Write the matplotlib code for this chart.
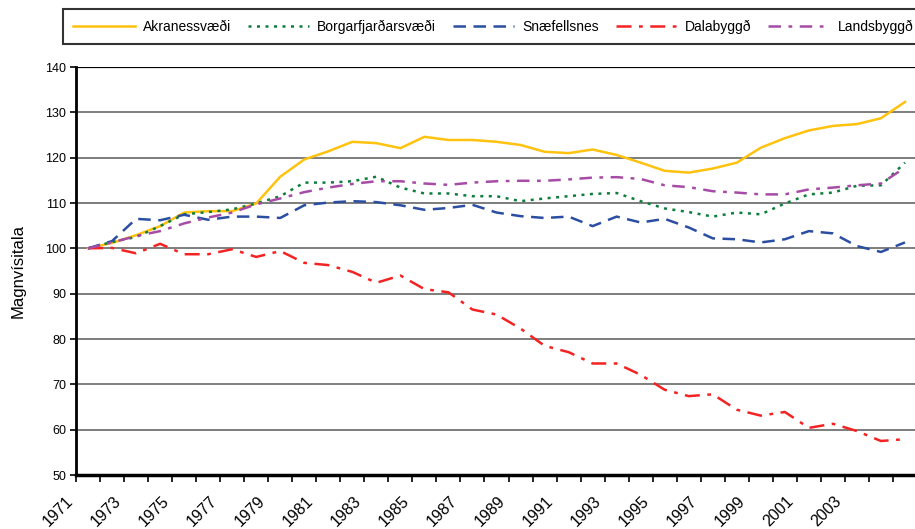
import matplotlib
matplotlib.use("Agg")
import matplotlib.pyplot as plt
import matplotlib.transforms as mtransforms
import numpy as np

plt.rcParams["font.family"] = ["Liberation Sans", "DejaVu Sans"]

years = list(range(1971, 2006))

akranes = [100.0, 101.2, 102.9, 104.9, 107.9, 108.2, 108.2, 109.9, 115.8, 119.6,
           121.4, 123.5, 123.2, 122.1, 124.6, 123.9, 123.9, 123.5, 122.8, 121.3,
           121.0, 121.8, 120.6, 118.9, 117.1, 116.7, 117.6, 118.9, 122.2, 124.3,
           126.0, 127.0, 127.4, 128.7, 132.3]
borgarfjordur = [100.0, 101.4, 102.5, 104.9, 107.5, 108.0, 108.6, 109.9, 111.5, 114.5,
                 114.5, 114.8, 115.8, 113.4, 112.1, 112.1, 111.5, 111.5, 110.4, 111.0,
                 111.5, 112.0, 112.2, 110.4, 108.8, 108.0, 107.0, 107.9, 107.5, 109.9,
                 111.9, 112.3, 113.8, 113.9, 118.9]
snaefellsnes = [100.0, 101.6, 106.5, 106.2, 107.4, 106.3, 107.0, 107.0, 106.7, 109.5,
                110.1, 110.4, 110.2, 109.5, 108.5, 108.9, 109.6, 107.9, 107.1, 106.7,
                107.0, 104.9, 107.0, 105.7, 106.5, 104.6, 102.2, 102.0, 101.3, 102.0,
                103.8, 103.3, 100.5, 99.2, 101.3]
dalabyggd = [100.0, 100.1, 98.9, 101.0, 98.7, 98.7, 99.8, 98.1, 99.4, 96.8,
             96.3, 94.8, 92.4, 94.0, 91.0, 90.3, 86.5, 85.4, 82.3, 78.5,
             77.1, 74.6, 74.6, 72.1, 68.8, 67.4, 67.8, 64.4, 63.1, 63.9,
             60.4, 61.3, 59.7, 57.5, 57.9]
landsbyggd = [100.0, 101.3, 102.7, 103.8, 105.5, 106.8, 107.9, 109.7, 111.0, 112.4,
              113.4, 114.2, 114.8, 114.8, 114.3, 114.0, 114.5, 114.8, 114.9, 114.9,
              115.2, 115.6, 115.7, 115.3, 113.9, 113.5, 112.6, 112.3, 111.9, 111.9,
              113.0, 113.4, 113.9, 114.3, 117.8]

series = [
    ("Akranessvæði", akranes, "#FFC20E", "-"),
    ("Borgarfjarðarsvæði", borgarfjordur, "#0E7E3C", (0, (1.2, 2.2))),
    ("Snæfellsnes", snaefellsnes, "#2B4EA2", (0, (5, 3))),
    ("Dalabyggð", dalabyggd, "#F42323", (0, (6, 3, 1.5, 3))),
    ("Landsbyggð", landsbyggd, "#A64CA6", (0, (5, 3, 1.5, 3))),
]

fig = plt.figure(figsize=(9.15, 5.29), dpi=100)
ax = fig.add_axes([76 / 915, 1 - 475 / 529, 841 / 915, 408 / 529])

x = np.arange(len(years)) + 0.5
for name, values, colour, style in series:
    ax.plot(x, values, color=colour, linestyle=style, linewidth=1.8, label=name)

ax.set_xlim(0, len(years))
ax.set_ylim(50, 140)
ax.set_yticks(range(50, 141, 10))
for v in range(60, 140, 10):
    ax.axhline(v, color="#5a5a5a", linewidth=1.1, zorder=0)
ax.axhline(140, color="black", linewidth=1.6, zorder=0)

ax.set_xticks(range(len(years) + 1))
xlabels = [str(y) if (i % 2 == 0 and y <= 2003) else "" for i, y in enumerate(years + [2006])]
ax.set_xticklabels(xlabels, rotation=45, ha="right", va="top",
                   rotation_mode="anchor", fontsize=11.5)
ax.tick_params(axis="x", length=5, width=1.2, pad=8, direction="out")
ax.tick_params(axis="y", length=4, width=1.2, labelsize=9, pad=3)
shift = mtransforms.ScaledTranslation(-11 / 100, 0, fig.dpi_scale_trans)
for label in ax.get_xticklabels():
    label.set_transform(label.get_transform() + shift)

for side in ("top", "right"):
    ax.spines[side].set_visible(False)
ax.spines["left"].set_linewidth(2)
ax.spines["bottom"].set_linewidth(2.5)

ax.set_ylabel("Magnvísitala", fontsize=12, labelpad=14)

leg = fig.legend(loc="upper left", bbox_to_anchor=(63 / 915, 1 - 9 / 529),
                 borderaxespad=0, ncol=5, fontsize=10, handlelength=4.4,
                 handletextpad=0.58, columnspacing=1.22, frameon=True,
                 fancybox=False, shadow=False, borderpad=0.75, edgecolor="black")
leg.get_frame().set_linewidth(1.5)

fig.savefig("out.png", dpi=100)
